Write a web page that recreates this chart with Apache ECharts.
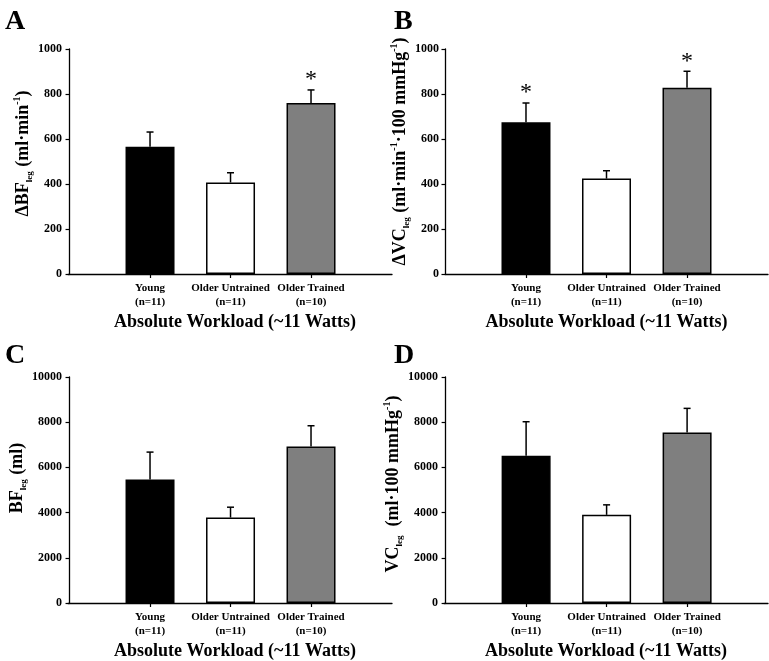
<!DOCTYPE html>
<html>
<head>
<meta charset="utf-8">
<script src="https://cdn.jsdelivr.net/npm/echarts@6/dist/echarts.min.js"></script>
<style>html,body{margin:0;padding:0;background:#fff}#c{width:769px;height:661px}</style>
</head>
<body>
<div id="c"></div>
<script>
// ---- data ----
var categories = ['Young\n(n=11)', 'Older Untrained\n(n=11)', 'Older Trained\n(n=10)'];
var catPos = [1, 2, 3];
var meanA = [566, 407, 760];
var errA  = [65, 43, 58];
var sigA  = [0, 0, 1];
var meanB = [674, 424, 828];
var errB  = [86, 35, 73];
var sigB  = [1, 0, 1];
var meanC = [5465, 3781, 6928];
var errC  = [1212, 458, 915];
var sigC  = [0, 0, 0];
var meanD = [6514, 3900, 7548];
var errD  = [1507, 443, 1064];
var sigD  = [0, 0, 0];
var ticksSmall = [0, 200, 400, 600, 800, 1000];
var ticksLarge = [0, 2000, 4000, 6000, 8000, 10000];
var xTitle = 'Absolute Workload (~11 Watts)';
var panelLetters = ['A', 'B', 'C', 'D'];

// ---- styles ----
var FONT = '"Liberation Serif", "Times New Roman", serif';
var barColors = ['#000000', '#ffffff', '#7f7f7f'];
var rich = {
  b:   {fontFamily: FONT, fontWeight: 'bold', fontSize: 18, color: '#000', lineHeight: 22},
  sub: {fontFamily: FONT, fontWeight: 'bold', fontSize: 9, color: '#000', lineHeight: 8, verticalAlign: 'bottom'},
  sup: {fontFamily: FONT, fontWeight: 'bold', fontSize: 10, color: '#000', lineHeight: 8, verticalAlign: 'top'}
};
var yNames = [
  '{b|\u0394BF}{sub|leg}{b| (ml\u00b7min}{sup|-1}{b|)}',
  '{b|\u0394VC}{sub|leg}{b| (ml\u00b7min}{sup|-1}{b|\u00b7100 mmHg}{sup|-1}{b|)}',
  '{b|BF}{sub|leg}{b| (ml)}',
  '{b|VC}{sub|leg}{b|  (ml\u00b7100 mmHg}{sup|-1}{b|)}'
];
var grids = [
  {left: 68, top: 49, width: 324, height: 225},
  {left: 445, top: 49, width: 323, height: 225},
  {left: 68, top: 377, width: 324, height: 226},
  {left: 444, top: 377, width: 324, height: 226}
];
var xRanges = [[-0.019, 4.006], [-0.006, 4.006], [-0.019, 4.006], [-0.02, 4.005]];
var yMax = [1000, 1000, 10000, 10000];
var yTicks = [ticksSmall, ticksSmall, ticksLarge, ticksLarge];
var yNameGap = [25, 13, 33, 26];
var yNamePad = [[0, 0, 0, 16], [0, 0, 0, 20], [0, 0, 0, 24], [0, 0, 0, 12]];
var xNamePad = [[0, 0, 0, 10], [0, 0, 0, 0], [0, 0, 0, 10], [0, 0, 0, 0]];
var means = [meanA, meanB, meanC, meanD];
var errs = [errA, errB, errC, errD];
var sigs = [sigA, sigB, sigC, sigD];

var xAxes = [], yAxes = [], series = [];
for (var i = 0; i < 4; i++) {
  xAxes.push({
    type: 'value', gridIndex: i, min: xRanges[i][0], max: xRanges[i][1],
    splitLine: {show: false},
    axisLine: {show: true, onZero: false, lineStyle: {color: '#000', width: 1.3}},
    axisTick: {show: true, length: 4, customValues: catPos, lineStyle: {color: '#000', width: 1.2}},
    axisLabel: {
      customValues: catPos, margin: 7, fontFamily: FONT, fontWeight: 'bold', fontSize: 11,
      lineHeight: 14, color: '#000',
      formatter: function (v) { return categories[Math.round(v) - 1] || ''; }
    },
    name: xTitle, nameLocation: 'middle', nameGap: 39,
    nameTextStyle: {fontFamily: FONT, fontWeight: 'bold', fontSize: 18, color: '#000', padding: xNamePad[i]}
  });
  yAxes.push({
    type: 'value', gridIndex: i, min: 0, max: yMax[i],
    splitLine: {show: false},
    axisLine: {show: true, lineStyle: {color: '#000', width: 1.3}},
    axisTick: {show: true, length: 4, customValues: yTicks[i], lineStyle: {color: '#000', width: 1.2}},
    axisLabel: {customValues: yTicks[i], margin: 6, fontFamily: FONT, fontWeight: 'bold', fontSize: 12, color: '#000',
      formatter: function (v) { return String(v); }},
    name: yNames[i], nameLocation: 'middle', nameRotate: 90, nameGap: yNameGap[i],
    nameTextStyle: {rich: rich, padding: yNamePad[i]}
  });
  var barData = [], errData = [];
  for (var k = 0; k < 3; k++) {
    barData.push({value: [catPos[k], means[i][k]], itemStyle: {color: barColors[k]}});
    errData.push([catPos[k], means[i][k], errs[i][k], sigs[i][k]]);
  }
  series.push({
    type: 'bar', xAxisIndex: i, yAxisIndex: i, data: barData, barWidth: 49,
    itemStyle: {borderColor: '#000', borderWidth: 1.5},
    silent: true, animation: false
  });
  series.push({
    type: 'custom', xAxisIndex: i, yAxisIndex: i, data: errData, animation: false, silent: true,
    encode: {x: 0, y: [1]},
    renderItem: function (params, api) {
      var x = api.value(0), m = api.value(1), e = api.value(2), s = api.value(3);
      var base = api.coord([x, m]);
      var top = api.coord([x, m + e]);
      var children = [
        {type: 'line', shape: {x1: base[0], y1: base[1], x2: top[0], y2: top[1]}, style: {stroke: '#000', lineWidth: 1.5}},
        {type: 'line', shape: {x1: top[0] - 3.5, y1: top[1], x2: top[0] + 3.5, y2: top[1]}, style: {stroke: '#000', lineWidth: 1.5}}
      ];
      if (s) {
        children.push({type: 'text', x: top[0], y: top[1] - 10,
          style: {text: '*', fontFamily: FONT, fontSize: 24, fill: '#000', align: 'center', verticalAlign: 'middle'}});
      }
      return {type: 'group', children: children};
    }
  });
}

var letterPos = [[5, 8], [394, 8], [5, 342], [394, 342]];
var graphics = panelLetters.map(function (L, j) {
  return {type: 'text', left: letterPos[j][0], top: letterPos[j][1],
    style: {text: L, fontFamily: FONT, fontWeight: 'bold', fontSize: 28, fill: '#000'}};
});

var chart = echarts.init(document.getElementById('c'), null, {renderer: 'canvas'});
chart.setOption({
  animation: false,
  grid: grids,
  xAxis: xAxes,
  yAxis: yAxes,
  series: series,
  graphic: graphics
});
</script>
</body>
</html>
